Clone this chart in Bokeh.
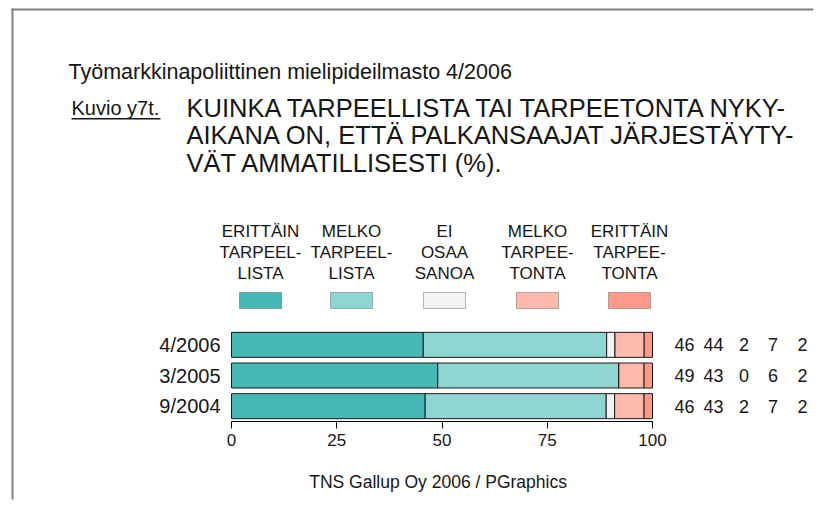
from bokeh.plotting import figure
from bokeh.models import Range1d, FixedTicker, Label, BoxAnnotation, ColumnDataSource
from bokeh.embed import file_html
from bokeh.resources import INLINE

# ---------------- data ----------------
periods = ["4/2006", "3/2005", "9/2004"]
erittain_tarpeellista = [46, 49, 46]
melko_tarpeellista = [44, 43, 43]
ei_osaa_sanoa = [2, 0, 2]
melko_tarpeetonta = [7, 6, 7]
erittain_tarpeetonta = [2, 2, 2]
series = [erittain_tarpeellista, melko_tarpeellista, ei_osaa_sanoa,
          melko_tarpeetonta, erittain_tarpeetonta]
legend_labels = [
    ["ERITTÄIN", "TARPEEL-", "LISTA"],
    ["MELKO", "TARPEEL-", "LISTA"],
    ["EI", "OSAA", "SANOA"],
    ["MELKO", "TARPEE-", "TONTA"],
    ["ERITTÄIN", "TARPEE-", "TONTA"],
]
x_ticks = [0, 25, 50, 75, 100]
colors = ["#46B9B6", "#8FD6D3", "#F3F3F3", "#FFBAAD", "#FF9A8A"]

title_small = "Työmarkkinapoliittinen mielipideilmasto 4/2006"
kuvio = "Kuvio y7t."
title_lines = ["KUINKA TARPEELLISTA TAI TARPEETONTA NYKY-",
               "AIKANA ON, ETTÄ PALKANSAAJAT JÄRJESTÄYTY-",
               "VÄT AMMATILLISESTI (%)."]
footnote = "TNS Gallup Oy  2006 / PGraphics"

# ---------------- layout ----------------
W, H = 816, 502
X0_PX, X100_PX = 231.0, 652.0      # where 0 % and 100 % fall
AXIS_PX = 421.0                    # pixel row of the x axis
ROW_PX = 92.0 / 3.0                # height of one period row
PXU = (X100_PX - X0_PX) / 100.0
FONT = "Liberation Sans"
INK = "#161616"
BORDER = "#808080"

x_range = Range1d(-X0_PX / PXU, (W - X0_PX) / PXU)
y_range = Range1d(-(H - AXIS_PX) / ROW_PX, AXIS_PX / ROW_PX)

p = figure(width=W, height=H, x_range=x_range, y_range=y_range,
           output_backend="svg", toolbar_location=None,
           min_border=0, min_border_left=0, min_border_right=0,
           min_border_top=0, min_border_bottom=0)
p.outline_line_color = None
p.xgrid.grid_line_color = None
p.ygrid.grid_line_color = None
p.background_fill_color = "white"
p.border_fill_color = "white"


def xd(px):
    return (px - X0_PX) / PXU


def yd(py):
    return (AXIS_PX - py) / ROW_PX


# row position of each period (bottom row = 0.5)
row_y = {per: len(periods) - i - 0.5 for i, per in enumerate(periods)}

# ---- bars ----
totals = [sum(s[i] for s in series) for i in range(len(periods))]
cum = [0.0] * len(periods)
for k, s in enumerate(series):
    left = list(cum)
    right = [cum[i] + s[i] / totals[i] * 100.0 for i in range(len(periods))]
    cum = right
    src = ColumnDataSource(dict(y=[row_y[per] for per in periods], left=left, right=right))
    p.hbar(y="y", left="left", right="right", height=0.815, source=src,
           fill_color=colors[k], line_color="#1a1a1a", line_width=1)

# ---- axes ----
xa = p.xaxis[0]
xa.fixed_location = 0
xa.bounds = (0, 100)
xa.ticker = FixedTicker(ticks=x_ticks)
xa.axis_line_color = "#000000"
xa.axis_line_width = 1
xa.major_tick_line_color = "#000000"
xa.major_tick_out = 7
xa.major_tick_in = 0
xa.minor_tick_line_color = None
xa.major_label_standoff = 5
xa.major_label_text_font = FONT
xa.major_label_text_font_size = "17px"
xa.major_label_text_color = INK

ya = p.yaxis[0]
ya.fixed_location = 0
ya.ticker = FixedTicker(ticks=[row_y[per] for per in periods])
ya.major_label_overrides = {row_y[per]: per for per in periods}
ya.axis_line_color = None
ya.major_tick_line_color = None
ya.minor_tick_line_color = None
ya.major_tick_out = 0
ya.major_tick_in = 0
ya.major_label_standoff = 11
ya.major_label_text_font = FONT
ya.major_label_text_font_size = "20px"
ya.major_label_text_color = INK


def strip(x1, x2, y1, y2, color):
    p.add_layout(BoxAnnotation(left=xd(x1), right=xd(x2), top=yd(y1), bottom=yd(y2),
                               fill_color=color, fill_alpha=1,
                               line_color=None, line_alpha=0))


# ---- page border (only top and left edges are in view) ----
strip(11, 13, 8, H - 3, BORDER)
strip(11, W - 3, 8, 10, BORDER)


def label(text, x, y, size, align="left"):
    p.add_layout(Label(x=x, y=y, text=text, text_font=FONT,
                       text_font_size=size, text_align=align,
                       text_baseline="middle", text_color=INK))


# ---- titles ----
label(title_small, xd(68), yd(71), "21.5px")
label(kuvio, xd(71), yd(107), "20px")
strip(71, 160, 117.5, 119, INK)
for i, line in enumerate(title_lines):
    label(line, xd(186), yd(107 + 27.5 * i), "25.5px")

# ---- legend ----
legend_cx = [260, 351, 444, 537, 629]
for k, lines in enumerate(legend_labels):
    for j, t in enumerate(lines):
        label(t, xd(legend_cx[k]), yd(230.5 + 21 * j), "17px", align="center")
    p.add_layout(BoxAnnotation(left=xd(legend_cx[k] - 21), right=xd(legend_cx[k] + 21),
                               top=yd(292), bottom=yd(308),
                               fill_color=colors[k], fill_alpha=1,
                               line_color="#1a1a1a", line_width=1))

# ---- values at right ----
value_cx = [684, 713, 743.5, 772.5, 802]
for i, per in enumerate(periods):
    for k, s in enumerate(series):
        label(str(s[i]), xd(value_cx[k]), row_y[per], "18px", align="center")

# ---- footnote ----
label(footnote, xd(440), yd(481), "17.5px", align="center")

open("out.html", "w").write(file_html(p, INLINE))
